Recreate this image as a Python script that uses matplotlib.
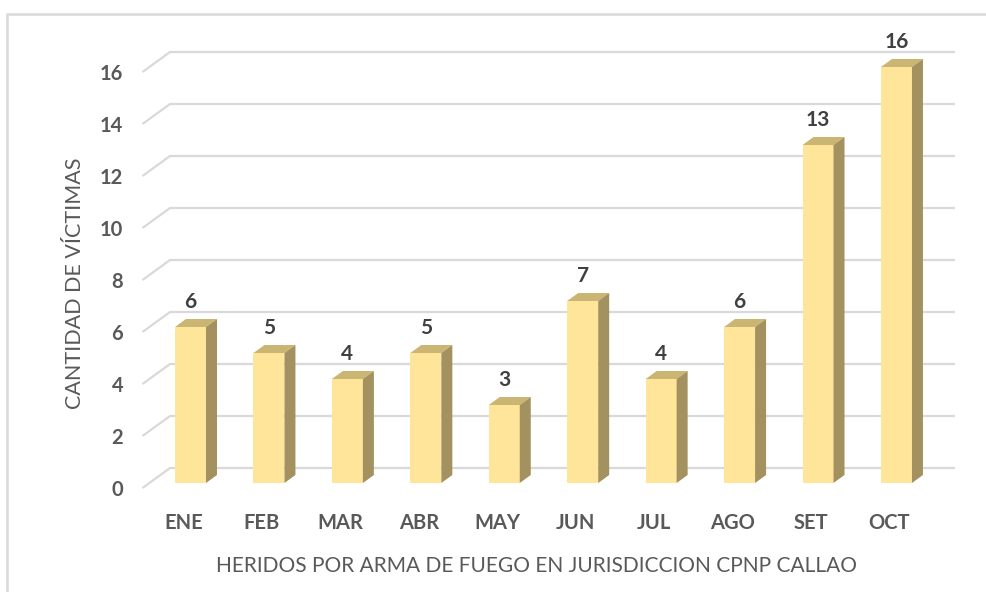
import matplotlib
matplotlib.use("Agg")
import matplotlib.pyplot as plt
from matplotlib.patches import Polygon, Rectangle
from matplotlib.transforms import ScaledTranslation

# data
months = ["ENE", "FEB", "MAR", "ABR", "MAY", "JUN", "JUL", "AGO", "SET", "OCT"]
victims = [6, 5, 4, 5, 3, 7, 4, 6, 13, 16]
yticks = [0, 2, 4, 6, 8, 10, 12, 14, 16]

front_col = "#FEE599"
top_col = "#CAB572"
side_col = "#A3925F"
grid_col = "#D9D9D9"
text_col = "#595959"
font = "Lato"

fig = plt.figure(figsize=(9.87, 5.92), dpi=100)
W, H = 987.0, 592.0

# axes placed so that 1 category = 78.44 px and 1 unit = 26 px
px_cat = 78.44
px_val = 26.0
xlim = (-0.7, 9.9)
ylim = (-1.0, 17.5)
x0_px = 190.5 + xlim[0] * px_cat
base_px = 483.0
bot_px = base_px - ylim[0] * px_val
ax = fig.add_axes([x0_px / W, (H - bot_px) / H,
                   (xlim[1] - xlim[0]) * px_cat / W,
                   (ylim[1] - ylim[0]) * px_val / H])
ax.set_xlim(*xlim)
ax.set_ylim(*ylim)
for s in ax.spines.values():
    s.set_visible(False)

# 3d depth (pixels -> data units)
def dx(p):
    return p / px_cat

def dy(p):
    return p / px_val

# back wall gridlines + slanted floor edges
x_front = dx(142.5 - 190.5)
x_back = dx(170 - 190.5)
x_end = dx(955 - 190.5)
for v in yticks:
    yb = v + dy(15)
    yf = v - dy(5)
    ax.plot([x_front, x_back, x_end], [yf, yb, yb], color=grid_col, lw=1.6,
            solid_capstyle="butt", zorder=0)

# bars
bw = dx(31)
ddx, ddy = dx(11), dy(8)
ax.bar(range(len(months)), victims, width=bw, color=front_col, zorder=3)
for i, v in enumerate(victims):
    l, r = i - bw / 2, i + bw / 2
    ax.add_patch(Polygon([(l, v), (r, v), (r + ddx, v + ddy), (l + ddx, v + ddy)],
                         closed=True, facecolor=top_col, edgecolor="none", zorder=3))
    ax.add_patch(Polygon([(r, 0), (r + ddx, ddy), (r + ddx, v + ddy), (r, v)],
                         closed=True, facecolor=side_col, edgecolor="none", zorder=3))
    ax.annotate(str(v), xy=(i, v), xytext=(0, 19), textcoords="offset pixels",
                ha="center", va="baseline", fontsize=15, fontweight="bold",
                color="#404040", family=font)

# ticks
ax.set_yticks(yticks)
ax.set_yticklabels([str(t) for t in yticks])
ax.set_xticks(range(len(months)))
ax.set_xticklabels(months)
ax.tick_params(axis="both", length=0)
ax.tick_params(axis="y", pad=9)
ax.tick_params(axis="x", pad=3)
for lab in ax.get_yticklabels():
    lab.set_fontsize(14.5)
    lab.set_fontweight("bold")
    lab.set_color(text_col)
    lab.set_family(font)
    lab.set_transform(lab.get_transform() + ScaledTranslation(0, -0.05, fig.dpi_scale_trans))
for lab in ax.get_xticklabels():
    lab.set_fontsize(14.5)
    lab.set_fontweight("bold")
    lab.set_color(text_col)
    lab.set_family(font)
    lab.set_transform(lab.get_transform() + ScaledTranslation(-0.07, 0, fig.dpi_scale_trans))

fig.text(75 / W, 1 - 283 / H, "CANTIDAD DE VÍCTIMAS", rotation=90, ha="center",
         va="center", fontsize=15.5, color=text_col, family=font)
fig.text(536 / W, 1 - 566 / H, "HERIDOS POR ARMA DE FUEGO EN JURISDICCION CPNP CALLAO",
         ha="center", va="center", fontsize=15, color=text_col, family=font)

# chart frame (top and left edges visible)
fig.add_artist(Rectangle((7 / W, -0.1), 1.2, 1 - 14 / H + 0.1, transform=fig.transFigure,
                         fill=False, edgecolor=grid_col, lw=1.8))

fig.savefig("out.png", dpi=100)
